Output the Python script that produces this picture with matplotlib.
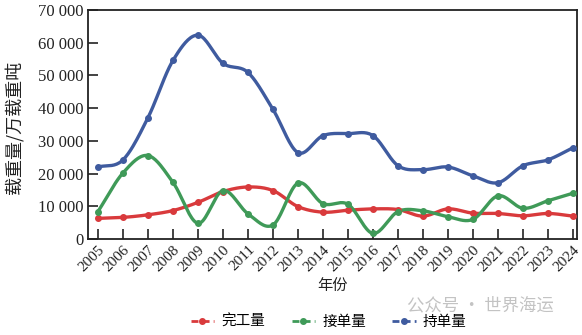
import numpy as np
import matplotlib
matplotlib.use("Agg")
import matplotlib.pyplot as plt
from matplotlib.lines import Line2D
from matplotlib.ticker import FuncFormatter
from matplotlib.transforms import ScaledTranslation

years = list(range(2005, 2025))
completed = [6300, 6600, 7400, 8700, 11200, 14500, 15900, 14800, 9900, 8200,
             8800, 9200, 9000, 7000, 9200, 7900, 7800, 7100, 7800, 7000]
orders = [8400, 20200, 25500, 17300, 4800, 14800, 7700, 4300, 17100, 10800,
          10600, 1700, 8400, 8600, 6800, 6000, 13200, 9400, 11700, 14000]
backlog = [22000, 24200, 37100, 54600, 62300, 53700, 50900, 39600, 26400, 31600,
           32200, 31600, 22400, 21200, 22000, 19300, 17200, 22400, 24200, 27900]
series_names = ["完工量", "接单量", "持单量"]
colors = ["#d93a3c", "#3f9a58", "#3f5b9f"]

cjk = ["Noto Sans CJK SC", "DejaVu Sans"]
serif = ["Liberation Serif", "DejaVu Serif"]


def catmull(x, y, n=20):
    x = np.asarray(x, float); y = np.asarray(y, float)
    px = np.concatenate([[2 * x[0] - x[1]], x, [2 * x[-1] - x[-2]]])
    py = np.concatenate([[2 * y[0] - y[1]], y, [2 * y[-1] - y[-2]]])
    xs, ys = [], []
    t = np.linspace(0, 1, n, endpoint=False)
    for i in range(1, len(px) - 2):
        p0, p1, p2, p3 = py[i - 1], py[i], py[i + 1], py[i + 2]
        q0, q1, q2, q3 = px[i - 1], px[i], px[i + 1], px[i + 2]
        f = lambda a0, a1, a2, a3: 0.5 * ((2 * a1) + (-a0 + a2) * t +
                                          (2 * a0 - 5 * a1 + 4 * a2 - a3) * t ** 2 +
                                          (-a0 + 3 * a1 - 3 * a2 + a3) * t ** 3)
        xs.append(f(q0, q1, q2, q3)); ys.append(f(p0, p1, p2, p3))
    xs.append([x[-1]]); ys.append([y[-1]])
    return np.concatenate(xs), np.concatenate(ys)


fig = plt.figure(figsize=(5.82, 3.35), dpi=100)
ax = fig.add_axes([88 / 582, 1 - 239 / 335, (577 - 88) / 582, (239 - 10) / 335])

for vals, c in zip([completed, orders, backlog], colors):
    sx, sy = catmull(years, vals)
    ax.plot(sx, sy, color=c, lw=2.4, solid_capstyle="round", zorder=3)
    ax.plot(years, vals, "o", color=c, ms=4, zorder=4)

ax.set_xlim(2004.6, 2024.16)
ax.set_ylim(0, 70000)
ax.set_xticks(years)
ax.set_xticklabels([str(y) for y in years], rotation=45, ha="right",
                   rotation_mode="anchor", fontfamily=serif, fontsize=11)
shift = ScaledTranslation(-4 / 100, 0, fig.dpi_scale_trans)
for lab in ax.get_xticklabels():
    lab.set_transform(lab.get_transform() + shift)
ax.set_yticks(range(0, 70001, 10000))
ax.yaxis.set_major_formatter(FuncFormatter(lambda v, p: f"{int(v):,}".replace(",", " ")))
for lab in ax.get_yticklabels():
    lab.set_fontfamily(serif)
    lab.set_fontsize(12)
ax.tick_params(axis="both", direction="in", length=7, width=1.2, colors="#222222")
ax.tick_params(axis="x", pad=3)
for s in ax.spines.values():
    s.set_linewidth(1.3)
    s.set_color("#222222")

ax.set_ylabel("载重量/万载重吨", fontfamily=cjk, fontsize=13, color="#222222")
ax.yaxis.set_label_coords(-(88 - 24) / 489, (239 - 127) / 229)
ax.set_xlabel("年份", fontfamily=cjk, fontsize=11, labelpad=2, color="#222222")

handles = [Line2D([0], [0], color=c, lw=2, ls=(0, (2.5, 1.5)), marker="o", ms=4)
           for c in colors]
fig.legend(handles, series_names, loc="center", bbox_to_anchor=(0.565, 1 - 322 / 335),
           ncol=3, frameon=False, prop={"family": cjk, "size": 10.5},
           handlelength=1.6, columnspacing=1.8, handletextpad=0.5)

fig.text(0.70, 1 - 305 / 335, "公众号 · 世界海运", fontfamily=cjk, fontsize=12.5,
         color="#888888", alpha=0.5, va="center")

fig.savefig("out.png", dpi=100)
